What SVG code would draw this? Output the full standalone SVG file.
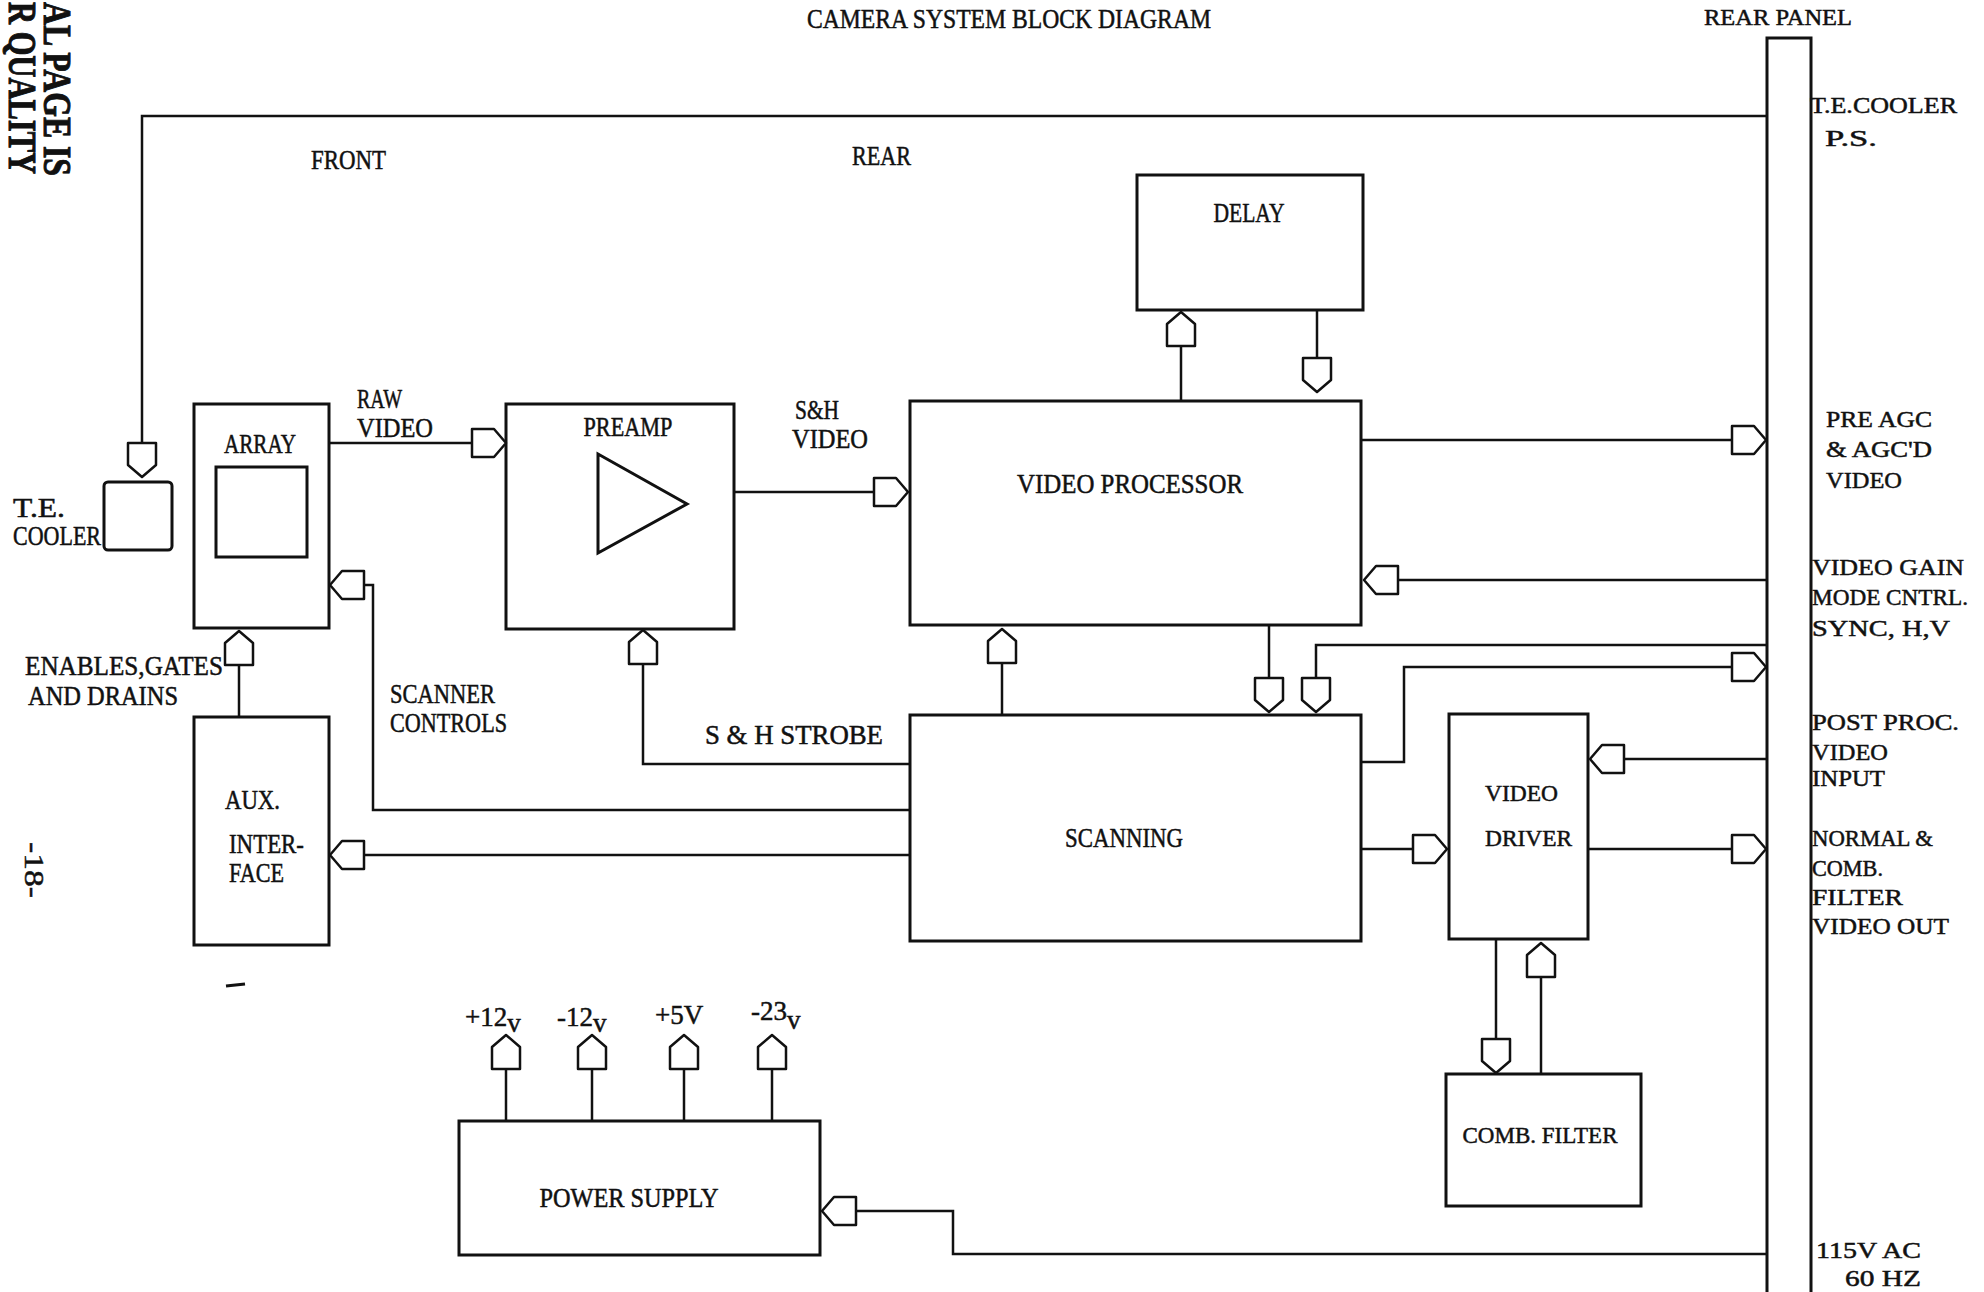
<svg xmlns="http://www.w3.org/2000/svg" xmlns:xlink="http://www.w3.org/1999/xlink" width="1984" height="1292" viewBox="0 0 1984 1292">
<style>
.box{fill:#fff;stroke:#111;stroke-width:3}
.ln{fill:none;stroke:#111;stroke-width:2.5}
.ar{fill:#fff;stroke:#111;stroke-width:2.5;stroke-linejoin:round}
.t{font-family:"Liberation Serif","DejaVu Serif",serif;font-size:27px;fill:#111;stroke:#111;stroke-width:0.5}
.r{font-family:"Liberation Serif","DejaVu Serif",serif;font-size:24px;fill:#111;stroke:#111;stroke-width:0.5}
.b{font-family:"Liberation Serif",serif;font-weight:bold;font-size:40px;fill:#111;stroke:#111;stroke-width:1}
.m{text-anchor:middle}
</style>
<defs>
<path id="a" d="M0,0 L-12,-14 L-34,-14 L-34,14 L-12,14 Z"/>
</defs>
<rect x="0" y="0" width="1984" height="1292" fill="#fff"/>

<g id="margin-notes">
<text class="b" transform="translate(44,2) rotate(90)" x="0" y="0" textLength="174" lengthAdjust="spacingAndGlyphs">AL PAGE IS</text>
<text class="b" transform="translate(9,2) rotate(90)" x="0" y="0" textLength="172" lengthAdjust="spacingAndGlyphs">R QUALITY</text>
<text class="t m" transform="translate(34,870) rotate(90)" x="0" y="9" textLength="56" lengthAdjust="spacingAndGlyphs">-18-</text>
<line x1="226" y1="986" x2="245" y2="984" stroke="#111" stroke-width="3"/>
</g>

<g id="title">
<text class="t m" x="1009" y="28" textLength="404" lengthAdjust="spacingAndGlyphs">CAMERA SYSTEM BLOCK DIAGRAM</text>
<text class="t" x="311" y="169" textLength="75" lengthAdjust="spacingAndGlyphs">FRONT</text>
<text class="t" x="852" y="165" textLength="59" lengthAdjust="spacingAndGlyphs">REAR</text>
</g>

<g id="rear-panel">
<rect class="box" x="1767" y="38" width="44" height="1270"/>
<text class="r m" x="1778" y="25" textLength="148" lengthAdjust="spacingAndGlyphs">REAR PANEL</text>
<text class="r" x="1810" y="113" textLength="147" lengthAdjust="spacingAndGlyphs">T.E.COOLER</text>
<text class="r" x="1825" y="146" textLength="52" lengthAdjust="spacingAndGlyphs">P.S.</text>
<text class="r" x="1826" y="427" textLength="106" lengthAdjust="spacingAndGlyphs">PRE AGC</text>
<text class="r" x="1826" y="457" textLength="106" lengthAdjust="spacingAndGlyphs">&amp; AGC'D</text>
<text class="r" x="1826" y="488" textLength="76" lengthAdjust="spacingAndGlyphs">VIDEO</text>
<text class="r" x="1812" y="575" textLength="152" lengthAdjust="spacingAndGlyphs">VIDEO GAIN</text>
<text class="r" x="1812" y="605" textLength="156" lengthAdjust="spacingAndGlyphs">MODE CNTRL.</text>
<text class="r" x="1812" y="636" textLength="138" lengthAdjust="spacingAndGlyphs">SYNC, H,V</text>
<text class="r" x="1812" y="730" textLength="147" lengthAdjust="spacingAndGlyphs">POST PROC.</text>
<text class="r" x="1812" y="760" textLength="76" lengthAdjust="spacingAndGlyphs">VIDEO</text>
<text class="r" x="1812" y="786" textLength="73" lengthAdjust="spacingAndGlyphs">INPUT</text>
<text class="r" x="1812" y="846" textLength="121" lengthAdjust="spacingAndGlyphs">NORMAL &amp;</text>
<text class="r" x="1812" y="876" textLength="71" lengthAdjust="spacingAndGlyphs">COMB.</text>
<text class="r" x="1812" y="905" textLength="91" lengthAdjust="spacingAndGlyphs">FILTER</text>
<text class="r" x="1812" y="934" textLength="137" lengthAdjust="spacingAndGlyphs">VIDEO OUT</text>
<text class="r" x="1816" y="1258" textLength="105" lengthAdjust="spacingAndGlyphs">115V AC</text>
<text class="r" x="1845" y="1286" textLength="76" lengthAdjust="spacingAndGlyphs">60 HZ</text>
</g>

<g id="te-cooler">
<rect class="box" x="104" y="482" width="68" height="68" rx="4"/>
<text class="t" x="13" y="517" textLength="52" lengthAdjust="spacingAndGlyphs">T.E.</text>
<text class="t" x="13" y="545" textLength="88" lengthAdjust="spacingAndGlyphs">COOLER</text>
</g>

<g id="array">
<rect class="box" x="194" y="404" width="135" height="224"/>
<rect class="box" x="216" y="467" width="91" height="90"/>
<text class="t m" x="260" y="453" textLength="72" lengthAdjust="spacingAndGlyphs">ARRAY</text>
</g>

<g id="preamp">
<rect class="box" x="506" y="404" width="228" height="225"/>
<polygon class="box" points="598,454 598,553 687,504"/>
<text class="t m" x="628" y="436" textLength="89" lengthAdjust="spacingAndGlyphs">PREAMP</text>
</g>

<g id="delay">
<rect class="box" x="1137" y="175" width="226" height="135"/>
<text class="t m" x="1249" y="222" textLength="71" lengthAdjust="spacingAndGlyphs">DELAY</text>
</g>

<g id="video-processor">
<rect class="box" x="910" y="401" width="451" height="224"/>
<text class="t m" x="1130" y="493" textLength="226" lengthAdjust="spacingAndGlyphs">VIDEO PROCESSOR</text>
</g>

<g id="scanning">
<rect class="box" x="910" y="715" width="451" height="226"/>
<text class="t m" x="1124" y="847" textLength="118" lengthAdjust="spacingAndGlyphs">SCANNING</text>
</g>

<g id="aux-interface">
<rect class="box" x="194" y="717" width="135" height="228"/>
<text class="t" x="225" y="809" textLength="55" lengthAdjust="spacingAndGlyphs">AUX.</text>
<text class="t" x="229" y="853" textLength="75" lengthAdjust="spacingAndGlyphs">INTER-</text>
<text class="t" x="229" y="882" textLength="55" lengthAdjust="spacingAndGlyphs">FACE</text>
</g>

<g id="video-driver">
<rect class="box" x="1449" y="714" width="139" height="225"/>
<text class="r" x="1485" y="801" textLength="73" lengthAdjust="spacingAndGlyphs">VIDEO</text>
<text class="r" x="1485" y="846" textLength="87" lengthAdjust="spacingAndGlyphs">DRIVER</text>
</g>

<g id="comb-filter">
<rect class="box" x="1446" y="1074" width="195" height="132"/>
<text class="r m" x="1540" y="1143" textLength="155" lengthAdjust="spacingAndGlyphs">COMB. FILTER</text>
</g>

<g id="power-supply">
<rect class="box" x="459" y="1121" width="361" height="134"/>
<text class="t m" x="629" y="1207" textLength="179" lengthAdjust="spacingAndGlyphs">POWER SUPPLY</text>
</g>

<g id="connectors">
<polyline class="ln" points="1767,116 142,116 142,443"/>
<use href="#a" class="ar" transform="translate(142,477) rotate(90)"/>
<line class="ln" x1="329" y1="443" x2="472" y2="443"/>
<use href="#a" class="ar" transform="translate(506,443)"/>
<line class="ln" x1="734" y1="492" x2="874" y2="492"/>
<use href="#a" class="ar" transform="translate(908,492)"/>
<line class="ln" x1="1181" y1="346" x2="1181" y2="401"/>
<use href="#a" class="ar" transform="translate(1181,312) rotate(-90)"/>
<line class="ln" x1="1317" y1="310" x2="1317" y2="358"/>
<use href="#a" class="ar" transform="translate(1317,392) rotate(90)"/>
<line class="ln" x1="1361" y1="440" x2="1732" y2="440"/>
<use href="#a" class="ar" transform="translate(1766,440)"/>
<line class="ln" x1="1767" y1="580" x2="1398" y2="580"/>
<use href="#a" class="ar" transform="translate(1364,580) rotate(180)"/>
<line class="ln" x1="1002" y1="663" x2="1002" y2="715"/>
<use href="#a" class="ar" transform="translate(1002,629) rotate(-90)"/>
<line class="ln" x1="1269" y1="625" x2="1269" y2="678"/>
<use href="#a" class="ar" transform="translate(1269,712) rotate(90)"/>
<polyline class="ln" points="1767,645 1316,645 1316,678"/>
<use href="#a" class="ar" transform="translate(1316,712) rotate(90)"/>
<polyline class="ln" points="1361,762 1404,762 1404,667 1732,667"/>
<use href="#a" class="ar" transform="translate(1766,667)"/>
<polyline class="ln" points="910,764 643,764 643,664"/>
<use href="#a" class="ar" transform="translate(643,630) rotate(-90)"/>
<polyline class="ln" points="910,810 373,810 373,585 363,585"/>
<use href="#a" class="ar" transform="translate(330,585) rotate(180)"/>
<line class="ln" x1="910" y1="855" x2="364" y2="855"/>
<use href="#a" class="ar" transform="translate(330,855) rotate(180)"/>
<line class="ln" x1="239" y1="717" x2="239" y2="665"/>
<use href="#a" class="ar" transform="translate(239,631) rotate(-90)"/>
<line class="ln" x1="1361" y1="849" x2="1413" y2="849"/>
<use href="#a" class="ar" transform="translate(1447,849)"/>
<line class="ln" x1="1767" y1="759" x2="1624" y2="759"/>
<use href="#a" class="ar" transform="translate(1590,759) rotate(180)"/>
<line class="ln" x1="1588" y1="849" x2="1732" y2="849"/>
<use href="#a" class="ar" transform="translate(1766,849)"/>
<line class="ln" x1="1496" y1="939" x2="1496" y2="1039"/>
<use href="#a" class="ar" transform="translate(1496,1073) rotate(90)"/>
<line class="ln" x1="1541" y1="1074" x2="1541" y2="977"/>
<use href="#a" class="ar" transform="translate(1541,943) rotate(-90)"/>
<line class="ln" x1="506" y1="1121" x2="506" y2="1069"/>
<use href="#a" class="ar" transform="translate(506,1035) rotate(-90)"/>
<line class="ln" x1="592" y1="1121" x2="592" y2="1069"/>
<use href="#a" class="ar" transform="translate(592,1035) rotate(-90)"/>
<line class="ln" x1="684" y1="1121" x2="684" y2="1069"/>
<use href="#a" class="ar" transform="translate(684,1035) rotate(-90)"/>
<line class="ln" x1="772" y1="1121" x2="772" y2="1069"/>
<use href="#a" class="ar" transform="translate(772,1035) rotate(-90)"/>
<polyline class="ln" points="1767,1254 953,1254 953,1211 856,1211"/>
<use href="#a" class="ar" transform="translate(822,1211) rotate(180)"/>
</g>

<g id="connector-labels">
<text class="t" x="357" y="408" textLength="45" lengthAdjust="spacingAndGlyphs">RAW</text>
<text class="t" x="357" y="437" textLength="76" lengthAdjust="spacingAndGlyphs">VIDEO</text>
<text class="t" x="795" y="419" textLength="44" lengthAdjust="spacingAndGlyphs">S&amp;H</text>
<text class="t" x="792" y="448" textLength="76" lengthAdjust="spacingAndGlyphs">VIDEO</text>
<text class="t" x="25" y="675" textLength="198" lengthAdjust="spacingAndGlyphs">ENABLES,GATES</text>
<text class="t" x="28" y="705" textLength="150" lengthAdjust="spacingAndGlyphs">AND DRAINS</text>
<text class="t" x="390" y="703" textLength="105" lengthAdjust="spacingAndGlyphs">SCANNER</text>
<text class="t" x="390" y="732" textLength="117" lengthAdjust="spacingAndGlyphs">CONTROLS</text>
<text class="t" x="705" y="744" textLength="178" lengthAdjust="spacingAndGlyphs">S &amp; H STROBE</text>
<text class="t" x="465" y="1026">+12<tspan dy="6">v</tspan></text>
<text class="t" x="557" y="1026">-12<tspan dy="6">v</tspan></text>
<text class="t" x="655" y="1024">+5V</text>
<text class="t" x="751" y="1020">-23<tspan dy="9">v</tspan></text>
</g>
</svg>
